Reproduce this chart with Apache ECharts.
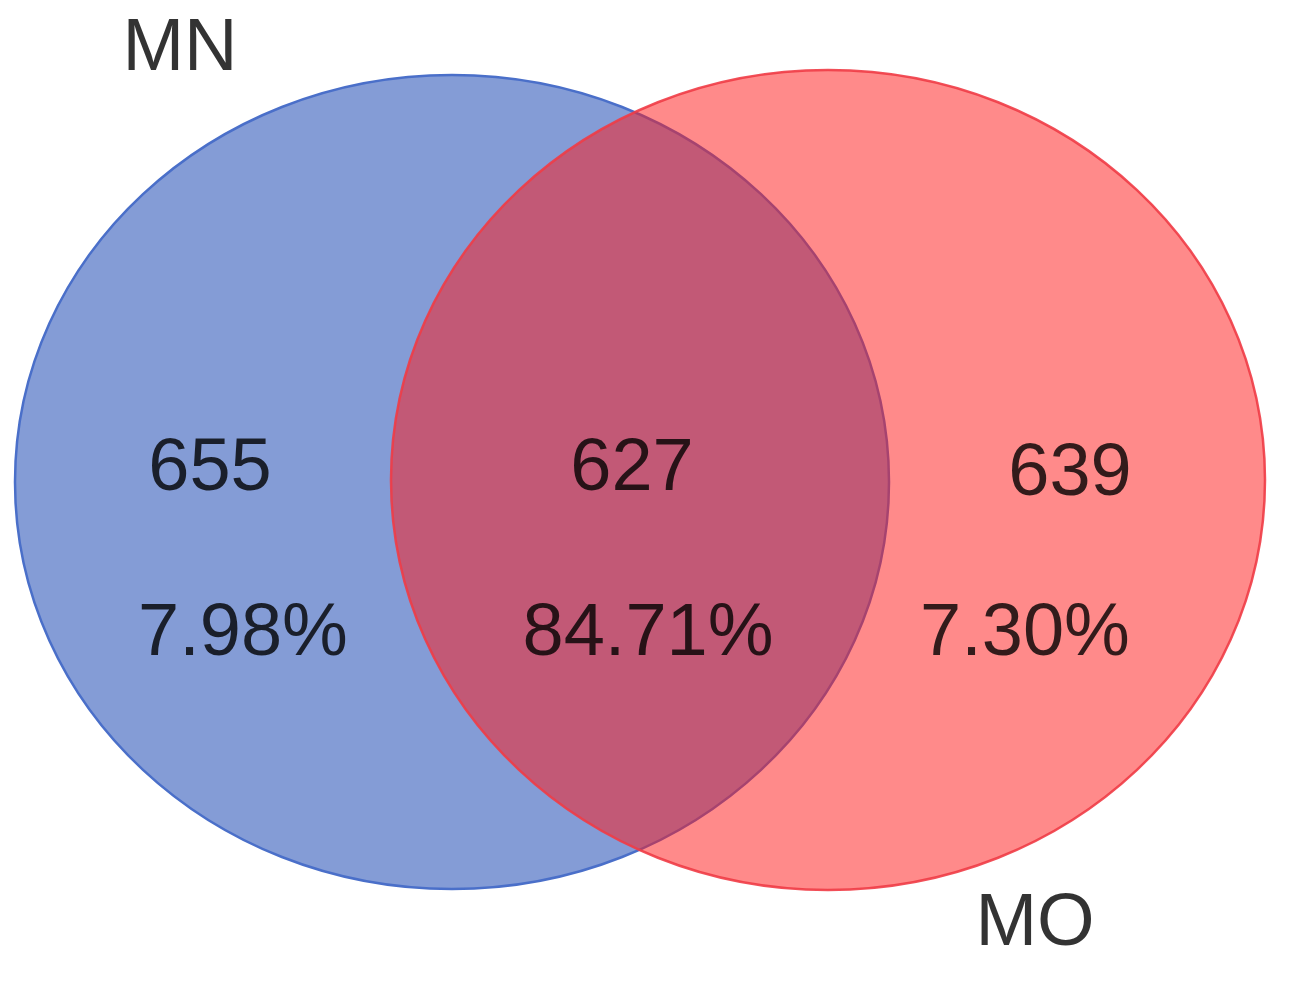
<!DOCTYPE html>
<html>
<head>
<meta charset="utf-8">
<script src="https://cdn.jsdelivr.net/npm/echarts@6/dist/echarts.min.js"></script>
<style>html,body{margin:0;padding:0;background:#fff}#main{width:1289px;height:986px}</style>
</head>
<body>
<div id="main"></div>
<script>
// sets: name, center x, center y, radius x, radius y (in picture units)
var setNames = ['MN', 'MO'];
var setCenters = [[452, 482], [828, 480]];
var setRadii = [[437, 407], [437, 410]];
var setFills = ['#849cd6', 'rgba(255,25,25,0.51)'];
var setStrokes = ['#4a6fc9', 'rgba(240,60,70,0.9)'];
var setLabelPos = [[180, 50], [1035, 925]];

// region counts and shares
var regionCounts = ['655', '627', '639'];
var regionShares = ['7.98%', '84.71%', '7.30%'];
var countPos = [[210, 470], [632, 470], [1070, 475]];
var sharePos = [[243, 635], [648, 635], [1025, 635]];

var chart = echarts.init(document.getElementById('main'));

var ellipseData = setCenters.map(function (c, i) {
    return [c[0], c[1], setRadii[i][0], setRadii[i][1], i];
});

var textData = [];
for (var i = 0; i < regionCounts.length; i++) {
    textData.push({ value: countPos[i], name: regionCounts[i] });
    textData.push({ value: sharePos[i], name: regionShares[i] });
}
for (var j = 0; j < setNames.length; j++) {
    textData.push({ value: setLabelPos[j], name: setNames[j] });
}

var option = {
    animation: false,
    grid: { left: 0, right: 0, top: 0, bottom: 0 },
    xAxis: { type: 'value', min: 0, max: 1289, show: false },
    yAxis: { type: 'value', min: 0, max: 986, inverse: true, show: false },
    series: [
        {
            type: 'custom',
            data: ellipseData,
            renderItem: function (params, api) {
                var c = api.coord([api.value(0), api.value(1)]);
                var s = api.size([api.value(2), api.value(3)]);
                var k = api.value(4);
                return {
                    type: 'ellipse',
                    shape: { cx: c[0], cy: c[1], rx: s[0], ry: s[1] },
                    style: { fill: setFills[k], stroke: setStrokes[k], lineWidth: 2.5 }
                };
            },
            z: 1
        },
        {
            type: 'scatter',
            symbolSize: 0,
            data: textData,
            label: {
                show: true,
                position: 'inside',
                formatter: '{b}',
                color: '#000',
                fontSize: 74,
                fontFamily: 'Liberation Sans, Arial, sans-serif'
            },
            z: 5
        }
    ]
};
chart.setOption(option);
</script>
</body>
</html>
